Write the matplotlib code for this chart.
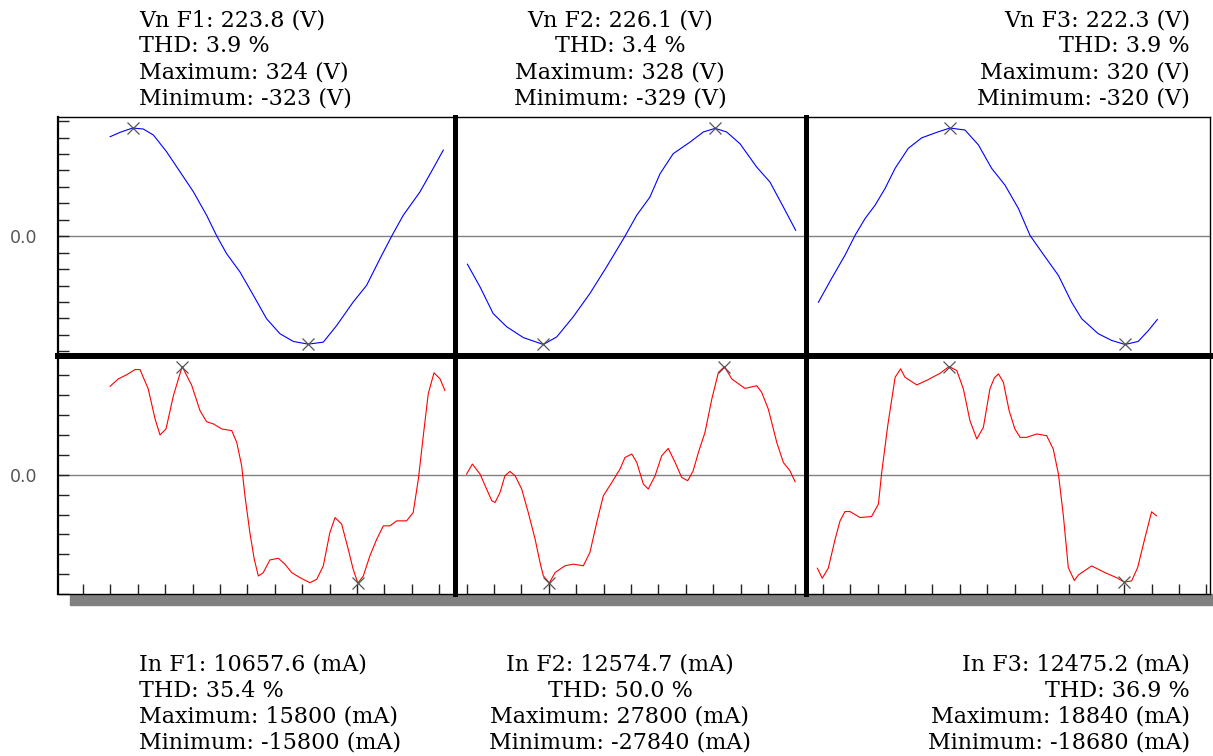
import numpy as np
import matplotlib.pyplot as plt
from matplotlib.patches import Rectangle

# measured values per phase
v_rms = [223.8, 226.1, 222.3]
v_thd = [3.9, 3.4, 3.9]
v_max = [324, 328, 320]
v_min = [-323, -329, -320]
i_rms = [10657.6, 12574.7, 12475.2]
i_thd = [35.4, 50.0, 36.9]
i_max = [15800, 27800, 18840]
i_min = [-15800, -27840, -18680]

# waveforms: time in grid divisions, voltage in V
t_v1 = [0.99, 1.35, 1.81, 2.20, 2.57, 3.05, 3.54, 4.03, 4.51, 4.88, 5.24, 5.73, 6.22, 6.70,
        7.19, 7.68, 8.22, 8.77, 9.26, 9.86, 10.35, 10.84, 11.27, 11.69, 12.30, 12.78, 13.15]
v1 = [298, 311, 324, 321, 303, 253, 193, 133, 63, 1, -52, -107, -177, -247,
      -292, -315, -323, -317, -267, -197, -147, -67, 1, 63, 133, 203, 258]
t_v2 = [14.03, 14.49, 14.97, 15.46, 16.07, 16.80, 17.29, 17.89, 18.50, 19.11, 19.78, 20.21,
        20.69, 21.06, 21.54, 22.15, 22.64, 23.07, 23.49, 23.98, 24.59, 25.07, 25.56, 26.01]
v2 = [-85, -154, -235, -275, -308, -329, -306, -245, -174, -93, 0, 64,
      119, 190, 251, 286, 317, 328, 317, 281, 210, 165, 89, 18]
t_v3 = [26.84, 27.32, 27.81, 28.18, 28.54, 28.91, 29.27, 29.64, 30.12, 30.61, 31.22, 31.64,
        32.19, 32.68, 33.16, 33.65, 34.14, 34.56, 34.99, 35.60, 36.08, 36.45, 37.05, 37.54,
        38.03, 38.51, 38.88, 39.21]
v3 = [-195, -125, -56, 3, 52, 92, 141, 201, 260, 291, 309, 320,
      314, 270, 201, 151, 82, 3, -47, -116, -195, -244, -288, -308,
      -320, -311, -279, -246]

# current in mA
t_i1 = [0.99, 1.29, 1.59, 1.90, 2.08, 2.38, 2.63, 2.81, 3.03, 3.30, 3.62, 3.97, 4.27, 4.51,
        4.76, 5.06, 5.43, 5.61, 5.79, 5.91, 6.09, 6.25, 6.40, 6.58, 6.82, 7.13, 7.37, 7.62,
        7.92, 8.28, 8.53, 8.77, 9.01, 9.20, 9.44, 9.68, 9.86, 10.03, 10.23, 10.47, 10.72,
        10.96, 11.20, 11.45, 11.81, 12.05, 12.24, 12.42, 12.60, 12.81, 13.03, 13.21]
i1 = [12920, 14000, 14590, 15360, 15360, 12540, 8150, 5810, 6690, 11560, 15800, 13020, 9360, 7750,
      7420, 6690, 6440, 4730, 1320, -3070, -8440, -12330, -14780, -14290, -12440, -12190, -13060, -14290,
      -15030, -15760, -15260, -13310, -8440, -6250, -7210, -10870, -13800, -15800, -14780, -11850, -9410,
      -7460, -7460, -6730, -6730, -5520, -630, 5710, 11810, 14880, 14000, 12290]
t_i2 = [14.00, 14.21, 14.49, 14.73, 14.92, 15.04, 15.22, 15.40, 15.58, 15.77, 16.01, 16.25, 16.50,
        16.68, 16.80, 17.02, 17.23, 17.59, 17.89, 18.26, 18.50, 18.75, 18.99, 19.30, 19.60, 19.78,
        20.03, 20.21, 20.45, 20.63, 20.88, 21.12, 21.36, 21.61, 21.85, 22.07, 22.27, 22.46, 22.70,
        22.95, 23.19, 23.41, 23.68, 24.16, 24.59, 24.77, 25.01, 25.32, 25.56, 25.80, 25.99]
i2 = [180, 2750, 180, -3680, -6690, -7130, -4560, -260, 850, -260, -3680, -9700, -16550,
      -22570, -26000, -27840, -25150, -23420, -22990, -23420, -20000, -12280, -5410, -1980, 1470, 4450,
      5330, 3170, -2390, -3680, -260, 4890, 6770, 3170, -690, -1540, 1030, 5740, 10890,
      19490, 26330, 27800, 24630, 22210, 22910, 21180, 16910, 8310, 3170, 1030, -1800]
t_i3 = [26.80, 26.98, 27.20, 27.45, 27.63, 27.81, 27.99, 28.36, 28.78, 29.03, 29.15, 29.37, 29.64,
        29.84, 30.00, 30.43, 30.85, 31.28, 31.61, 31.89, 32.13, 32.37, 32.62, 32.86, 33.10, 33.26,
        33.41, 33.59, 33.80, 34.01, 34.20, 34.44, 34.81, 35.17, 35.41, 35.60, 35.78, 35.96, 36.18,
        36.33, 36.81, 37.30, 37.72, 38.00, 38.27, 38.49, 38.76, 39.00, 39.18]
i3 = [-16270, -18020, -16270, -11210, -8020, -6400, -6400, -7450, -7270, -5110, 400, 8550, 16970,
      18430, 16970, 15640, 16570, 17670, 18840, 18140, 14950, 9420, 6230, 8250, 14950, 16860,
      17560, 16100, 11160, 7970, 6510, 6510, 7100, 6800, 4480, 120, -7150, -16170, -18400,
      -17440, -15870, -17040, -17910, -18680, -18490, -16170, -10930, -6450, -7150]

volt = [(t_v1, v1), (t_v2, v2), (t_v3, v3)]
curr = [(t_i1, i1), (t_i2, i2), (t_i3, i3)]

# layout (pixels)
W, H = 1213, 756
col_px = [58, 455, 806, 1210]
row_px = [117, 355.5, 594]
tick0_px, div_px = 83, 27.4

fig = plt.figure(figsize=(W / 100, H / 100), dpi=100)

# grey drop shadow under the frame
fig.patches.append(Rectangle((70 / W, 1 - 605 / H), (W - 70) / W, 11 / H,
                             transform=fig.transFigure, color='#808080', zorder=-5))

for c in range(3):
    x0 = (col_px[c] - tick0_px) / div_px
    x1 = (col_px[c + 1] - tick0_px) / div_px
    peaks = [max(v_max[c], -v_min[c]), max(i_max[c], -i_min[c])]
    for r, ((tt, yy), color) in enumerate([(volt[c], 'blue'), (curr[c], 'red')]):
        rect = [col_px[c] / W, 1 - row_px[r + 1] / H,
                (col_px[c + 1] - col_px[c]) / W, (row_px[r + 1] - row_px[r]) / H]
        ax = fig.add_axes(rect)
        lim = peaks[r] * 119 / 108
        ax.set_xlim(x0, x1)
        ax.set_ylim(-lim, lim)

        ax.axhline(0, color='#808080', lw=1.0, zorder=1)
        ax.plot(tt, yy, color=color, lw=0.8, zorder=2)
        k_hi, k_lo = int(np.argmax(yy)), int(np.argmin(yy))
        ax.plot([tt[k_hi], tt[k_lo]], [yy[k_hi], yy[k_lo]], ls='none', marker='x',
                ms=9, mew=0.9, color='#555555', zorder=3, clip_on=False)

        # y ticks
        nstep = 7.25 if r == 0 else 6.0
        step = lim / nstep
        yt = np.arange(-int(nstep), int(nstep) + 1) * step
        if c == 0:
            ax.set_yticks(yt, ['0.0' if k == 0 else '' for k in range(-int(nstep), int(nstep) + 1)])
            ax.tick_params(axis='y', direction='in', length=8, width=1, color='#222222',
                           pad=15, labelsize=12.5, labelcolor='#555555')
        else:
            ax.set_yticks([])

        # x ticks on the bottom row only
        if r == 1:
            xt = np.arange(np.ceil(x0), np.floor(x1) + 1)
            ax.set_xticks(xt, [''] * len(xt))
            ax.tick_params(axis='x', direction='in', length=7, width=1, color='#222222')
        else:
            ax.set_xticks([])

        for s in ax.spines.values():
            s.set_color('black')
            s.set_linewidth(1.0)
        if c == 0:
            ax.spines['left'].set_linewidth(1.6)
        if c < 2:
            ax.spines['right'].set_linewidth(3.6)
        if c > 0:
            ax.spines['left'].set_linewidth(3.6)
        if r == 0:
            ax.spines['bottom'].set_linewidth(4.3)
        else:
            ax.spines['top'].set_linewidth(4.3)

# text blocks
xs = [139, 620, 1190]
has = ['left', 'center', 'right']
top_base = [26, 52, 78, 104]
bot_base = [671, 697, 723, 749]
for c in range(3):
    top_lines = [f'Vn F{c + 1}: {v_rms[c]:.1f} (V)', f'THD: {v_thd[c]:.1f} %',
                 f'Maximum: {v_max[c]} (V)', f'Minimum: {v_min[c]} (V)']
    bot_lines = [f'In F{c + 1}: {i_rms[c]:.1f} (mA)', f'THD: {i_thd[c]:.1f} %',
                 f'Maximum: {i_max[c]} (mA)', f'Minimum: {i_min[c]} (mA)']
    for lines, bases in [(top_lines, top_base), (bot_lines, bot_base)]:
        for s, yb in zip(lines, bases):
            fig.text(xs[c] / W, 1 - yb / H, s, ha=has[c], va='baseline',
                     family='DejaVu Serif', fontsize=16, color='black')

fig.savefig('out.png', dpi=100)
